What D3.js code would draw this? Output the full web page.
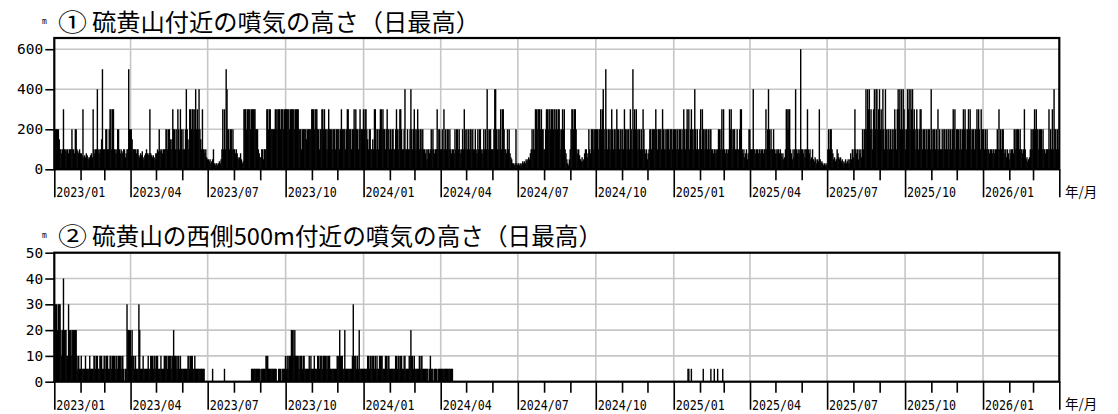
<!DOCTYPE html>
<html>
<head>
<meta charset="utf-8">
<script src="https://cdn.jsdelivr.net/npm/d3@7/dist/d3.min.js"></script>
<style>
  body { margin: 0; background: #fff; }
  svg { display: block; background: #fff; }
</style>
</head>
<body>
<svg id="chart" width="1118" height="414"></svg>
<script>
// Daily maximum plume heights (m) at Iozan, Kirishima.
const seriesStart = "2023-01-01";
const axisStart = "2023-01-01";
const axisEnd = "2026-04-01";

const summitTitle = "硫黄山付近の噴気の高さ（日最高）";
const westTitle = "硫黄山の西側500m付近の噴気の高さ（日最高）";
const summitTicks = [0, 200, 400, 600];
const westTicks = [0, 10, 20, 30, 40, 50];
const axisUnit = "年/月";

// Plume near the summit crater, one value per day from 2023-01-01 (one row per month).
const summitDaily = [
  200,200,200,200,200,150,100,100,80,100,300,100,100,90,100,100,80,100,100,100,200,100,100,80,200,200,100,90,80,100,80,
  80,70,300,60,70,60,80,70,60,50,60,70,80,60,300,100,80,100,100,400,100,80,100,100,150,500,100,100,
  100,200,200,100,100,200,300,300,100,300,300,100,100,80,100,200,200,100,80,100,90,80,100,100,60,80,100,100,500,200,200,
  200,150,100,100,100,100,80,100,100,70,60,80,70,90,60,50,70,80,100,80,70,80,300,80,70,60,70,60,50,80,
  80,100,90,200,100,90,100,80,100,100,100,200,200,100,200,200,150,100,150,300,200,200,100,200,100,300,200,100,300,200,100,
  200,100,100,200,400,200,150,100,300,300,200,300,300,200,300,400,200,300,200,400,200,150,100,300,100,100,80,100,60,50,
  50,40,50,30,40,50,100,30,20,30,30,20,30,40,30,50,100,300,100,300,100,500,400,200,200,100,200,200,100,200,100,
  100,80,100,80,60,50,60,80,50,30,40,300,300,300,200,300,300,300,300,200,300,300,300,300,300,200,200,200,100,80,60,
  60,100,100,50,100,100,100,300,300,200,300,300,200,200,200,200,200,300,300,200,300,300,300,200,300,300,300,200,300,300,
  300,300,300,300,200,300,300,300,300,300,200,300,300,300,300,200,200,200,100,200,200,200,200,200,150,200,200,200,200,200,300,
  300,300,200,300,300,300,200,200,100,200,200,300,300,200,300,200,200,100,200,300,200,200,200,100,200,200,200,100,200,200,
  200,200,100,200,300,200,200,200,200,100,200,300,300,200,200,200,100,200,200,300,200,300,200,200,100,200,300,200,200,200,300,
  200,300,300,200,150,100,200,200,100,100,150,100,300,300,100,200,200,100,200,300,300,200,300,200,200,100,200,300,200,200,100,
  200,100,200,200,100,100,200,300,200,100,200,300,300,200,100,100,200,400,100,100,200,100,100,200,400,200,100,200,300,
  200,100,200,300,200,100,200,200,100,200,100,100,80,100,50,100,100,80,100,200,100,200,100,80,100,100,300,100,200,200,100,
  100,200,100,300,100,200,100,200,200,100,200,100,80,100,100,80,200,100,200,200,100,200,100,80,100,200,100,300,200,100,
  200,100,200,100,200,200,100,200,100,100,200,100,80,200,100,200,200,100,80,100,200,100,200,100,400,200,100,200,200,100,100,
  100,200,400,400,200,100,200,100,200,300,100,300,300,200,100,100,80,200,100,200,80,60,50,30,30,20,30,200,30,20,
  30,20,30,20,30,40,30,40,30,50,40,50,60,50,80,100,200,100,200,100,300,300,200,300,300,300,200,300,200,200,100,
  100,200,300,300,200,300,300,200,300,300,200,300,300,200,300,200,300,300,200,100,200,300,200,300,100,80,50,30,20,50,100,
  200,300,300,200,300,300,200,100,80,100,70,50,40,60,40,50,80,100,100,60,80,200,100,80,200,200,200,100,200,200,
  200,200,100,200,200,300,200,300,400,200,100,500,200,100,200,200,100,200,300,200,100,200,200,100,300,200,200,100,200,200,100,
  200,100,300,200,200,100,200,200,100,300,200,100,500,200,300,200,300,200,100,200,200,100,200,100,300,200,100,80,100,50,
  80,100,200,200,100,200,200,200,200,300,200,100,200,200,200,200,100,300,200,100,200,100,200,200,200,100,200,200,200,100,200,
  200,200,100,200,200,100,200,200,100,200,100,300,200,100,200,300,200,300,100,200,300,200,100,200,400,200,100,200,100,100,200,
  300,100,300,200,200,100,200,200,100,200,100,200,200,100,100,80,100,100,80,100,100,200,200,100,200,300,100,300,
  100,80,100,100,80,100,300,200,300,200,100,200,200,100,100,200,100,100,200,300,300,100,80,100,60,80,100,50,80,200,200,
  100,100,100,400,100,100,80,100,100,80,100,100,80,100,100,80,100,100,300,100,200,400,200,100,200,100,100,200,100,80,
  100,80,100,100,80,100,80,60,80,50,60,100,300,300,200,300,300,100,80,50,100,60,100,400,100,80,100,80,100,600,100,
  100,80,100,60,100,100,300,100,80,100,50,60,100,50,40,60,50,30,50,40,300,50,30,40,30,20,30,20,30,20,
  100,200,100,200,200,100,80,50,60,40,50,100,80,60,50,60,40,50,30,40,30,50,30,40,50,30,50,80,50,100,60,
  100,300,100,80,100,50,100,80,100,60,200,100,200,200,400,200,400,300,400,200,300,200,100,300,400,200,400,400,200,300,400,
  200,300,200,400,200,100,400,200,100,200,200,100,200,100,200,100,200,300,200,100,300,400,300,400,200,400,200,400,300,200,
  100,200,400,300,400,200,400,300,400,200,300,200,100,300,200,100,200,300,300,200,100,200,200,100,200,200,100,200,200,100,400,
  200,100,200,200,100,200,100,300,100,200,100,100,200,100,200,200,100,200,100,200,200,100,200,100,200,300,200,300,100,200,
  200,200,100,200,200,100,200,300,200,300,200,100,200,300,200,300,200,100,200,200,100,200,200,300,200,300,200,100,300,200,200,
  200,100,200,100,200,100,100,80,100,100,80,100,100,80,100,100,200,100,300,100,200,100,200,200,100,80,100,60,100,80,50,
  100,80,100,100,80,200,200,100,200,200,200,100,200,100,100,80,100,300,100,50,60,40,50,60,100,200,100,200,
  200,300,200,300,200,200,100,200,200,200,100,200,100,100,80,100,100,100,300,100,200,100,300,100,400,200,200,100,200,100
];

// Plume about 500 m west of the crater, one value per day from 2023-01-01 to 2024-04-14.
const westDaily = [
  30,30,30,20,30,30,30,20,10,20,40,20,20,20,10,10,30,20,20,10,20,20,20,20,20,20,10,5,10,5,5,
  10,5,5,5,5,10,5,5,5,5,10,5,5,5,5,10,10,5,10,10,5,5,10,10,10,5,5,10,
  10,5,10,10,5,5,10,10,5,10,10,10,5,10,10,5,10,10,10,5,10,10,5,0,5,5,30,20,20,20,20,
  10,20,10,10,5,10,5,5,5,30,20,5,5,5,10,5,5,5,5,5,10,5,5,10,10,10,5,10,10,5,
  10,10,5,5,5,10,5,5,5,10,10,10,10,5,10,10,10,5,10,10,20,10,10,10,5,10,10,5,10,5,5,
  5,5,5,5,5,5,10,10,5,10,10,10,5,5,10,5,5,5,5,5,5,5,5,5,5,5,0,0,0,0,
  0,0,0,0,0,5,0,0,0,0,0,0,0,0,0,0,0,0,0,5,0,0,0,0,0,0,0,0,0,0,0,
  0,0,0,0,0,0,0,0,0,0,0,0,0,0,0,0,0,0,0,0,5,5,5,5,5,5,5,5,5,5,5,
  0,5,5,5,5,5,10,10,10,5,5,5,5,5,5,5,5,5,5,0,0,5,5,5,0,5,5,5,5,10,
  5,10,5,10,10,10,20,20,20,10,20,10,10,10,10,5,10,10,10,5,10,10,5,5,5,5,5,10,5,10,5,
  5,5,10,5,5,5,10,10,5,10,10,10,5,10,10,10,10,5,10,10,10,5,5,5,5,5,5,5,5,10,
  10,10,20,10,10,10,5,5,20,5,5,5,5,5,5,5,5,10,30,10,10,10,5,10,5,20,5,5,5,5,5,
  5,5,5,5,10,10,5,10,10,5,10,10,5,10,5,10,5,5,10,10,10,10,5,5,5,10,10,5,10,10,5,
  5,5,5,5,5,5,10,10,5,10,10,5,10,10,5,5,10,10,5,5,5,5,10,10,20,10,10,5,10,
  5,5,5,5,5,10,5,10,10,5,5,5,5,5,5,5,0,5,10,5,5,5,0,5,5,5,0,5,5,5,5,
  5,5,5,5,5,5,5,5,5,5,5,5,5,5
];

// Isolated small plumes at the west vent in early 2025.
const westLaterDates = ["2025-01-17", "2025-01-18", "2025-01-21", "2025-02-04", "2025-02-13", "2025-02-17", "2025-02-21", "2025-02-27"];
const westLaterValues = [5, 5, 5, 5, 5, 5, 5, 5];

const parse = d3.utcParse("%Y-%m-%d");
const t0 = parse(seriesStart);
const dailyRows = vals => vals.map((v, i) => ({ date: d3.utcDay.offset(t0, i), value: v }));

const summitRows = dailyRows(summitDaily);
const westRows = dailyRows(westDaily).concat(
  westLaterDates.map((d, i) => ({ date: parse(d), value: westLaterValues[i] }))
);

const svg = d3.select("#chart");
const monoFont = "'DejaVu Sans Mono', 'Liberation Mono', monospace";
const jpFont = "'Noto Sans CJK JP', 'Noto Sans', sans-serif";

const plotLeft = 54.3, plotRight = 1059.3;
const x = d3.scaleUtc().domain([parse(axisStart), parse(axisEnd)]).range([plotLeft, plotRight]);
const months = d3.utcMonth.range(parse(axisStart), d3.utcDay.offset(parse(axisEnd), 1));
const isQuarter = d => d.getUTCMonth() % 3 === 0;
const fmtMonth = d3.utcFormat("%Y/%m");
const barWidth = 1.4;

function drawPanel(cfg) {
  const g = svg.append("g");
  const y = d3.scaleLinear().domain([0, cfg.yMax]).range([cfg.bottom, cfg.top]);

  // grid
  g.append("g").selectAll("line")
    .data(cfg.ticks.filter(t => t > 0))
    .join("line")
    .attr("x1", plotLeft).attr("x2", plotRight)
    .attr("y1", d => y(d)).attr("y2", d => y(d))
    .attr("stroke", "#c6c6c6").attr("stroke-width", 1.6);
  g.append("g").selectAll("line")
    .data(months.filter(d => isQuarter(d) && x(d) > plotLeft + 1 && x(d) < plotRight - 1))
    .join("line")
    .attr("x1", d => x(d)).attr("x2", d => x(d))
    .attr("y1", cfg.top).attr("y2", cfg.bottom)
    .attr("stroke", "#c6c6c6").attr("stroke-width", 1.6);

  // daily bars
  g.append("g").selectAll("rect")
    .data(cfg.rows.filter(r => r.value > 0))
    .join("rect")
    .attr("x", d => x(d.date))
    .attr("width", barWidth)
    .attr("y", d => y(d.value))
    .attr("height", d => y(0) - y(d.value))
    .attr("fill", "#000");

  // frame
  g.append("rect")
    .attr("x", plotLeft).attr("y", cfg.top)
    .attr("width", plotRight - plotLeft).attr("height", cfg.bottom - cfg.top)
    .attr("fill", "none").attr("stroke", "#000").attr("stroke-width", 2.2);

  // y axis
  const ya = g.append("g")
    .attr("transform", `translate(${plotLeft},0)`)
    .call(d3.axisLeft(y).tickValues(cfg.ticks).tickSize(9).tickPadding(2));
  ya.select(".domain").remove();
  ya.selectAll(".tick line").attr("stroke", "#000").attr("stroke-width", 1.6);
  ya.selectAll(".tick text")
    .attr("font-family", monoFont).attr("font-size", 14.5).attr("fill", "#000");

  // x axis: month ticks, long ones at quarters
  const xa = g.append("g")
    .attr("transform", `translate(0,${cfg.bottom})`)
    .call(d3.axisBottom(x).tickValues(months).tickSizeOuter(0)
      .tickFormat(d => (isQuarter(d) && d < parse(axisEnd)) ? fmtMonth(d) : ""));
  xa.select(".domain").remove();
  xa.selectAll(".tick line")
    .attr("y2", d => isQuarter(d) ? 28 : 11)
    .attr("stroke", "#000").attr("stroke-width", 1.6);
  xa.selectAll(".tick text")
    .attr("text-anchor", "start").attr("x", 1.5).attr("y", 28).attr("dy", 0)
    .attr("font-family", monoFont).attr("font-size", 13.5).attr("fill", "#000")
    .attr("textLength", 49).attr("lengthAdjust", "spacingAndGlyphs");

  g.append("text")
    .attr("x", 1065).attr("y", cfg.bottom + 27.5)
    .attr("font-family", jpFont).attr("font-size", 13.5).attr("fill", "#000")
    .text(axisUnit);

  // unit and title
  g.append("text")
    .attr("x", 42).attr("y", cfg.titleY - 7)
    .attr("font-family", monoFont).attr("font-size", 8).attr("fill", "#000")
    .text("m");
  g.append("text")
    .attr("x", 58).attr("y", cfg.titleY)
    .attr("font-family", jpFont).attr("font-size", 24).attr("fill", "#000")
    .attr("textLength", 29).attr("lengthAdjust", "spacingAndGlyphs")
    .text(cfg.mark);
  g.append("text")
    .attr("x", 92).attr("y", cfg.titleY)
    .attr("font-family", jpFont).attr("font-size", 23.5).attr("fill", "#000")
    .attr("textLength", cfg.titleLength).attr("lengthAdjust", "spacingAndGlyphs")
    .text(cfg.title);
}

drawPanel({
  top: 38, bottom: 169.3, yMax: 656, ticks: summitTicks,
  rows: summitRows, mark: "①", title: summitTitle, titleY: 31, titleLength: 388
});
drawPanel({
  top: 252.7, bottom: 381.7, yMax: 50, ticks: westTicks,
  rows: westRows, mark: "②", title: westTitle, titleY: 245, titleLength: 510
});
</script>
</body>
</html>
